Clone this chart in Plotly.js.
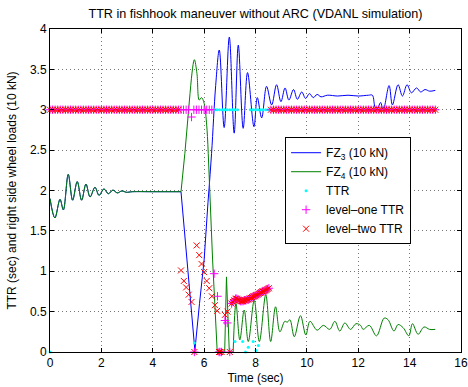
<!DOCTYPE html>
<html>
<head>
<meta charset="utf-8">
<script src="https://cdn.plot.ly/plotly-3.0.1.min.js"></script>
<style>html,body{margin:0;padding:0;background:#fff}#chart{width:468px;height:387px}</style>
</head>
<body>
<div id="chart"></div>
<script>
// ---- data ----
// common start of both wheel loads (curves overlap until ~5.1 s)
const fzStartT = [0,0.19,0.39,0.52,0.71,0.88,1.06,1.23,1.40,1.56,1.75,1.91,2.10,2.27,2.45,2.62,2.80,2.97,3.2,4.0,5.1];
const fzStartV = [1.90,1.66,1.89,1.76,2.20,1.88,2.11,1.88,2.08,1.92,2.04,1.94,2.02,1.96,2.005,1.97,1.995,1.978,1.985,1.985,1.985];

// FZ3 after 5.1 s
const fz3T = [5.37,5.64,5.82,6.0,6.15,6.29,6.45,6.59,6.78,6.98,7.17,7.33,7.52,7.69,7.94,8.07,8.24,8.43,8.63,8.82,8.99,9.15,9.3,9.48,9.63,9.8,9.95,10.1,10.25,10.4,10.55,10.8,11.2,11.6,12.0,12.4,12.55,12.66,12.75,12.87,12.97,13.2,13.33,13.55,13.72,13.9,14.07,14.27,14.43,14.6,14.78,15.0];
const fz3V = [1.0,0.02,0.6,1.14,1.85,2.46,3.3,3.74,2.78,3.90,2.71,3.80,2.77,3.46,2.79,3.15,2.90,3.29,3.06,3.31,3.10,3.27,3.12,3.25,3.13,3.22,3.14,3.20,3.15,3.19,3.16,3.18,3.17,3.18,3.17,3.18,3.18,3.03,3.02,3.09,2.99,3.30,3.06,3.31,3.17,3.31,3.21,3.27,3.22,3.25,3.23,3.24];

// FZ4 after 5.1 s
const fz4T = [5.25,5.45,5.62,5.72,5.81,5.90,6.0,6.1,6.16,6.33,6.51,6.6,6.8,6.87,6.98,7.13,7.24,7.39,7.56,7.72,7.95,8.15,8.40,8.59,8.78,8.95,9.14,9.24,9.34,9.51,9.75,9.96,10.12,10.40,10.64,10.89,11.09,11.28,11.48,11.7,11.91,12.09,12.19,12.43,12.71,13.01,13.16,13.39,13.55,13.75,13.97,14.11,14.33,14.56,14.78,15.0];
const fz4V = [2.46,3.2,3.62,3.45,3.12,3.15,3.08,2.81,2.46,1.14,0,0,0,0.93,0,0,0.60,0.15,0.52,0.13,0.64,0.13,0.71,0.13,0.56,0.25,0.38,0.37,0.40,0.19,0.45,0.21,0.38,0.27,0.33,0.28,0.38,0.26,0.36,0.28,0.35,0.33,0.28,0.33,0.20,0.42,0.40,0.26,0.34,0.30,0.20,0.35,0.22,0.31,0.28,0.28];

// TTR markers at the 3 s cap
const topBandAT = [0,0.1,0.2,0.3,0.4,0.5,0.6,0.7,0.8,0.9,1,1.1,1.2,1.3,1.4,1.5,1.6,1.7,1.8,1.9,2,2.1,2.2,2.3,2.4,2.5,2.6,2.7,2.8,2.9,3,3.1,3.2,3.3,3.4,3.5,3.6,3.7,3.8,3.9,4,4.1,4.2,4.3,4.4,4.5,4.6,4.7,4.8,4.9,5];
const topBandAV = [3,3,3,3,3,3,3,3,3,3,3,3,3,3,3,3,3,3,3,3,3,3,3,3,3,3,3,3,3,3,3,3,3,3,3,3,3,3,3,3,3,3,3,3,3,3,3,3,3,3,3];
const topBandBT = [8.6,8.7,8.8,8.9,9,9.1,9.2,9.3,9.4,9.5,9.6,9.7,9.8,9.9,10,10.1,10.2,10.3,10.4,10.5,10.6,10.7,10.8,10.9,11,11.1,11.2,11.3,11.4,11.5,11.6,11.7,11.8,11.9,12,12.1,12.2,12.3,12.4,12.5,12.6,12.7,12.8,12.9,13,13.1,13.2,13.3,13.4,13.5,13.6,13.7,13.8,13.9,14,14.1,14.2,14.3,14.4,14.5,14.6,14.7,14.8,14.9,15];
const topBandBV = [3,3,3,3,3,3,3,3,3,3,3,3,3,3,3,3,3,3,3,3,3,3,3,3,3,3,3,3,3,3,3,3,3,3,3,3,3,3,3,3,3,3,3,3,3,3,3,3,3,3,3,3,3,3,3,3,3,3,3,3,3,3,3,3,3];
const lvl1TopT = [5.1,5.2,5.3,5.4,5.6,5.7,5.8,5.9,6.0,6.1,6.2,6.3];
const lvl1TopV = [3,3,3,3,3,3,3,3,3,3,3,3];
const ttrTopT = [6.4,6.5,6.6,6.7,6.8,6.9,7.0,7.1,7.2,7.3,7.8,7.9,8.0,8.1,8.2,8.3,8.4,8.5];
const ttrTopV = [3,3,3,3,3,3,3,3,3,3,3,3,3,3,3,3,3,3];

// TTR markers below the cap
const ttrLowT = [0,5.62,7.2,7.5,7.61,7.72,7.91,8.02,8.11];
const ttrLowV = [0,0.11,0.13,0.13,0,0.06,0.13,0.02,0.08];
const lvl1LowT = [5.51,6.39,6.52,6.81,6.90];
const lvl1LowV = [2.91,0.97,0.69,0.39,0.36];
const lvl2DiagT = [5.10,5.21,5.30,5.40,5.51,5.71,5.81,5.90,6.0,6.1,6.2,6.3,6.42,6.51,6.81,6.91];
const lvl2DiagV = [1.01,0.88,0.80,0.71,0.62,1.32,1.20,1.09,0.99,0.88,0.79,0.69,0.58,0.51,0.46,0.50];
const zeroT = [5.62,6.58,6.62,6.68,7.0];
const zeroV = [0,0,0,0,0];
const clusterT = [7.07,7.12,7.17,7.22,7.27,7.32,7.37,7.42,7.47,7.52,7.57,7.62,7.67,7.72,7.77,7.82,7.87,7.92,7.97,8.02,8.07,8.12,8.17,8.22,8.27,8.32,8.37,8.42,8.47,8.52];
const clusterV = [0.60,0.62,0.64,0.66,0.66,0.65,0.64,0.63,0.63,0.63,0.64,0.64,0.65,0.65,0.66,0.67,0.68,0.69,0.69,0.70,0.71,0.72,0.73,0.74,0.75,0.75,0.76,0.77,0.78,0.79];

const xTicks = [0,2,4,6,8,10,12,14,16];
const yTicks = [0,0.5,1,1.5,2,2.5,3,3.5,4];

// ---- traces ----
const FONT = 'Liberation Sans, Arial, Helvetica, sans-serif';
const fz3AllT = fzStartT.concat(fz3T), fz3AllV = fzStartV.concat(fz3V);
const fz4AllT = fzStartT.concat(fz4T), fz4AllV = fzStartV.concat(fz4V);

// draw a curve in pieces: smooth (spline) for oscillations, straight for the sharp drops
function pieces(T, V, cuts, shapes, color, name, group) {
  const out = [];
  for (let k = 0; k < shapes.length; k++) {
    out.push({
      name: name, legendgroup: group, showlegend: k === 0,
      x: T.slice(cuts[k], cuts[k+1] + 1), y: V.slice(cuts[k], cuts[k+1] + 1),
      mode: 'lines', line: {color: color, width: 1, shape: shapes[k], smoothing: 1}
    });
  }
  return out;
}

const last3 = fz3AllT.length - 1, last4 = fz4AllT.length - 1;
const traces = [].concat(
  pieces(fz3AllT, fz3AllV, [0, 20, 25, last3], ['spline', 'linear', 'spline'], '#0000ff', 'FZ<sub>3</sub> (10 kN)', 'fz3'),
  pieces(fz4AllT, fz4AllV, [0, 20, 22, 29, 36, last4], ['spline', 'linear', 'spline', 'linear', 'spline'], '#008000', 'FZ<sub>4</sub> (10 kN)', 'fz4'),
  [
  {name:'TTR', x: ttrLowT.concat(ttrTopT), y: ttrLowV.concat(ttrTopV), mode:'markers', cliponaxis:false,
   marker:{symbol:'circle', size:3, color:'#00ffff'}},
  {name:'level–one TTR', x: topBandAT.concat(lvl1TopT, lvl1LowT, zeroT, clusterT, topBandBT),
   y: topBandAV.concat(lvl1TopV, lvl1LowV, zeroV, clusterV, topBandBV), mode:'markers', cliponaxis:false,
   marker:{symbol:'cross-thin-open', size:6, color:'#ff00ff', line:{color:'#ff00ff', width:1}}},
  {name:'level–two TTR', x: topBandAT.concat(lvl2DiagT, zeroT, clusterT, topBandBT),
   y: topBandAV.concat(lvl2DiagV, zeroV, clusterV, topBandBV), mode:'markers', cliponaxis:false,
   marker:{symbol:'x-thin-open', size:6, color:'#ff0000', line:{color:'#ff0000', width:1}}}
  ]
);

const axisCommon = {
  showline:true, linecolor:'#000', linewidth:1, mirror:'ticks',
  ticks:'inside', ticklen:4, tickcolor:'#000', tickwidth:1,
  showgrid:true, gridcolor:'#777', gridwidth:1, griddash:'1px,3px',
  zeroline:false, tickfont:{family:FONT, size:12, color:'#000'}
};

const layout = {
  width:468, height:387,
  margin:{l:50, r:7, t:29, b:35},
  paper_bgcolor:'#fff', plot_bgcolor:'#fff',
  font:{family:FONT, size:12, color:'#000'},
  title:{text:'TTR in fishhook maneuver without ARC (VDANL simulation)', font:{family:FONT, size:12.6, color:'#000'},
         x:0.5, xref:'paper', y:1-14/387, yref:'container', yanchor:'middle'},
  xaxis: Object.assign({}, axisCommon, {range:[0,16], tickvals:xTicks,
         title:{text:'Time (sec)', font:{family:FONT, size:12, color:'#000'}, standoff:4}}),
  yaxis: Object.assign({}, axisCommon, {range:[0,4], tickvals:yTicks,
         title:{text:'TTR (sec) and right side wheel loads (10 kN)', font:{family:FONT, size:12, color:'#000'}, standoff:10}}),
  showlegend:true,
  legend:{x:0.572, y:0.665, xanchor:'left', yanchor:'top', bgcolor:'#fff', bordercolor:'#000', borderwidth:1,
          font:{family:FONT, size:12, color:'#000'}, tracegroupgap:0, traceorder:'normal'},
  hovermode:false
};

Plotly.newPlot('chart', traces, layout, {staticPlot:true, displayModeBar:false});
</script>
</body>
</html>
